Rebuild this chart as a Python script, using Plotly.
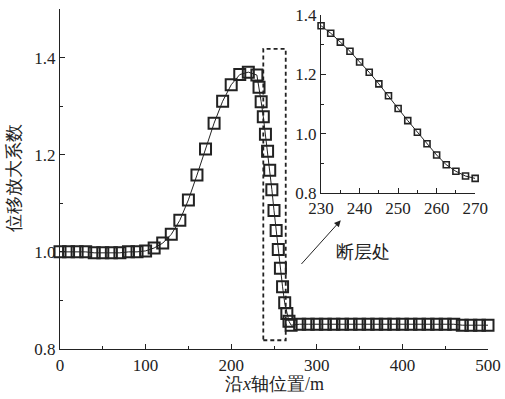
import plotly.graph_objects as go

# ---- data ----
x_left = [0, 10, 20, 30, 40, 50, 60, 70, 80, 90, 100, 110, 120, 130, 140, 150,
          160, 170, 180, 190, 200, 210, 220]
y_left = [1.000, 1.000, 1.000, 1.000, 0.998, 0.998, 0.998, 0.998, 1.000, 1.000,
          1.002, 1.008, 1.018, 1.036, 1.065, 1.107, 1.158, 1.212, 1.265, 1.310,
          1.344, 1.365, 1.370]
x_fault = [230, 232.5, 235, 237.5, 240, 242.5, 245, 247.5, 250, 252.5, 255,
           257.5, 260, 262.5, 265, 267.5, 270]
y_fault = [1.364, 1.339, 1.309, 1.278, 1.242, 1.207, 1.168, 1.128, 1.085, 1.044,
           1.005, 0.966, 0.928, 0.895, 0.873, 0.857, 0.849]
x_right = [280, 290, 300, 310, 320, 330, 340, 350, 360, 370, 380, 390, 400, 410,
           420, 430, 440, 450, 460, 470, 480, 490, 500]
y_right = [0.851, 0.851, 0.851, 0.851, 0.851, 0.851, 0.851, 0.851, 0.851, 0.851,
           0.851, 0.851, 0.851, 0.851, 0.851, 0.851, 0.851, 0.851, 0.851, 0.849,
           0.849, 0.849, 0.849]

main_xticks = [0, 100, 200, 300, 400, 500]
main_yticks = [0.8, 1.0, 1.2, 1.4]
inset_xticks = [230, 240, 250, 260, 270]
inset_yticks = [0.8, 1.0, 1.2, 1.4]

x_all = x_left + x_fault + x_right
y_all = y_left + y_fault + y_right

FONT = "Liberation Serif"
INK = "#222222"

fig = go.Figure()
fig.add_trace(go.Scatter(
    x=x_all, y=y_all, mode="lines+markers",
    line=dict(color=INK, width=1),
    marker=dict(symbol="square-open", size=11, color=INK, line=dict(width=2, color=INK)),
    xaxis="x", yaxis="y", showlegend=False, cliponaxis=False))
fig.add_trace(go.Scatter(
    x=x_fault, y=y_fault, mode="lines+markers",
    line=dict(color=INK, width=1),
    marker=dict(symbol="square-open", size=6, color=INK, line=dict(width=1.6, color=INK)),
    xaxis="x2", yaxis="y2", showlegend=False, cliponaxis=False))

axis_common = dict(showline=True, linecolor=INK, linewidth=1.2, showgrid=False,
                   zeroline=False, ticks="inside", ticklen=5, tickwidth=1,
                   tickcolor=INK, tickfont=dict(family=FONT, size=17, color=INK))

fig.update_layout(
    width=505, height=399,
    margin=dict(l=60, r=17, t=9, b=50, autoexpand=False),
    paper_bgcolor="white", plot_bgcolor="white",
    font=dict(family=FONT, color=INK),
    xaxis=dict(range=[0, 500], tickvals=main_xticks, domain=[0, 1],
               minor=dict(dtick=50, tick0=0, ticks="inside", ticklen=3, tickcolor=INK),
               **axis_common),
    yaxis=dict(range=[0.8, 1.5], tickvals=main_yticks, tickformat=".1f", domain=[0, 1],
               minor=dict(dtick=0.1, tick0=0.8, ticks="inside", ticklen=3, tickcolor=INK),
               **axis_common),
    xaxis2=dict(range=[230, 270], tickvals=inset_xticks, domain=[0.610, 0.970],
                anchor="y2",
                minor=dict(dtick=5, tick0=230, ticks="inside", ticklen=3, tickcolor=INK),
                **axis_common),
    yaxis2=dict(range=[0.8, 1.4], tickvals=inset_yticks, tickformat=".1f",
                domain=[0.459, 0.982], anchor="x2",
                minor=dict(dtick=0.1, tick0=0.8, ticks="inside", ticklen=3, tickcolor=INK),
                **axis_common),
)

# dashed box around fault zone
fig.add_shape(type="rect", xref="x", yref="y", x0=237.5, x1=263.7, y0=0.818, y1=1.418,
              line=dict(color=INK, width=1.8, dash="4px,3px"))

# arrow and label
fig.add_annotation(x=328, y=1.065, ax=280.5, ay=0.972, xref="x", yref="y",
                   axref="x", ayref="y", showarrow=True, arrowhead=2, arrowsize=1.3,
                   arrowwidth=1, arrowcolor=INK, text="")
fig.add_annotation(x=354, y=1.0, xref="x", yref="y", text="断层处", showarrow=False,
                   xanchor="center", yanchor="middle",
                   font=dict(family=FONT, size=18, color=INK))

# axis titles (positions given in pixels, converted to paper coords)
pw, ph = 505 - 60 - 17, 399 - 9 - 50
fig.add_annotation(x=(14 - 60) / pw, y=(349 - 178) / ph, xref="paper", yref="paper",
                   text="位移放大系数", showarrow=False, textangle=-90,
                   xanchor="center", yanchor="middle",
                   font=dict(family=FONT, size=18, color=INK))
fig.add_annotation(x=(274 - 60) / pw, y=(349 - 384) / ph, xref="paper", yref="paper",
                   text="沿<i>x</i>轴位置/m", showarrow=False,
                   xanchor="center", yanchor="middle",
                   font=dict(family=FONT, size=18, color=INK))

fig.write_html("out.html", config={"displayModeBar": False},
               post_script="document.body.style.margin='0';")
